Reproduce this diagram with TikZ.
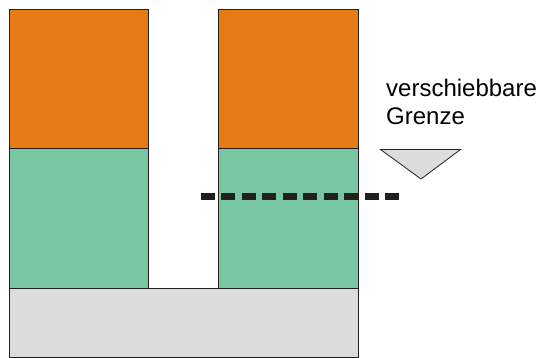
\documentclass[tikz,border=0pt]{standalone}
\usepackage{fontspec}
\setmainfont{Liberation Sans}
\definecolor{orng}{HTML}{E67A15}
\definecolor{grn}{HTML}{79C6A3}
\definecolor{lgray}{HTML}{DCDCDC}
\definecolor{dk}{HTML}{231F20}
\begin{document}
\begin{tikzpicture}[x=1pt,y=-1pt,
  blk/.style={draw=dk,line width=1pt},
  dashline/.style={draw=dk,line width=7pt,dash pattern=on 14pt off 6.44pt}]
\useasboundingbox (0,0) rectangle (544,358);
% base
\path[blk,fill=lgray] (9.5,288.5) rectangle (358,357.5);
% left column
\path[blk,fill=grn] (9.5,148.5) rectangle (148.5,288.5);
\path[blk,fill=orng] (9.5,9.5) rectangle (148.5,148.5);
% right column
\path[blk,fill=grn] (218.5,148.5) rectangle (358,288.5);
\path[blk,fill=orng] (218.5,9.5) rectangle (358,148.5);
% dashed boundary
\coordinate (d1) at (201,196.5);
\coordinate (d2) at (399,196.5);
\draw[dashline] (d1) -- (d2);
% triangle marker
\path[draw=dk,line width=0.8pt,fill=lgray] (380.5,149.5) -- (460.5,149.5) -- (421,179) -- cycle;
% label
\node[anchor=base west,align=left,font=\fontsize{24}{28}\selectfont,inner sep=0pt] (lbl) at (386,125) {verschiebbare\\Grenze};
\end{tikzpicture}
\end{document}
